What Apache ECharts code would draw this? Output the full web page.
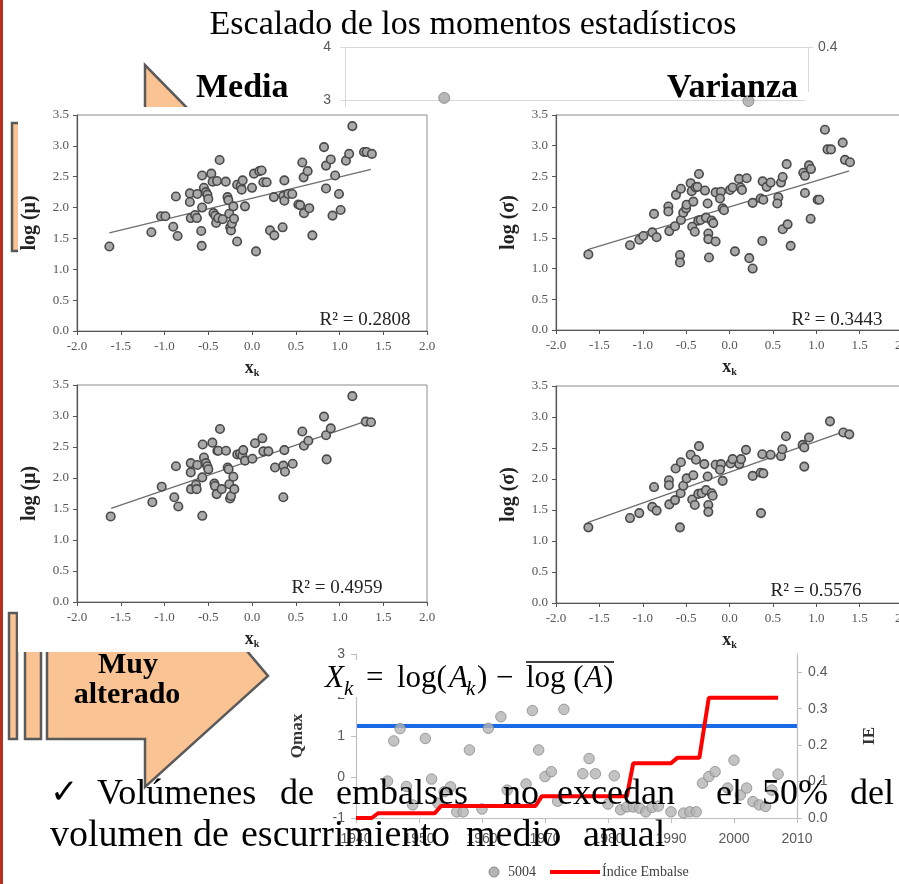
<!DOCTYPE html>
<html>
<head>
<meta charset="utf-8">
<script src="https://cdn.jsdelivr.net/npm/echarts@6.0.0/dist/echarts.min.js"></script>
<style>
html, body { margin: 0; padding: 0; background: #fff; }
#chart { width: 899px; height: 884px; }
</style>
</head>
<body>
<div id="chart"></div>
<script>
// ---- scatter panels: log(mu) / log(sigma) vs xk ----
const tlX = [-1.63,-1.15,-1.04,-0.99,-0.90,-0.87,-0.85,-0.71,-0.71,-0.70,-0.65,-0.63,-0.625,-0.58,-0.575,-0.57,-0.57,-0.55,-0.526,-0.51,-0.50,-0.465,-0.45,-0.44,-0.42,-0.41,-0.40,-0.385,-0.37,-0.335,-0.30,-0.28,-0.27,-0.26,-0.25,-0.24,-0.23,-0.213,-0.206,-0.17,-0.17,-0.13,-0.118,-0.107,-0.08,0.0,0.023,0.046,0.084,0.11,0.13,0.167,0.206,0.25,0.255,0.35,0.358,0.37,0.37,0.415,0.46,0.53,0.55,0.575,0.59,0.594,0.636,0.655,0.69,0.823,0.846,0.846,0.90,0.92,0.95,0.994,1.013,1.074,1.11,1.147,1.28,1.31,1.37];
const tlY = [1.37,1.60,1.86,1.86,1.69,2.18,1.54,2.23,2.09,1.83,1.88,1.83,2.22,1.62,1.38,2.52,2.00,2.32,2.25,2.21,2.14,2.55,2.42,1.91,1.87,1.75,2.43,1.83,2.77,1.81,2.42,2.17,2.12,1.90,1.68,1.63,1.74,2.02,1.82,1.45,2.37,2.35,2.29,2.44,2.02,2.32,2.55,1.29,2.59,2.60,2.41,2.41,1.63,2.17,1.55,1.68,2.19,2.11,2.44,2.22,2.22,2.05,2.04,2.73,2.49,1.91,2.59,1.99,1.55,2.98,2.68,2.31,2.78,1.87,2.52,2.22,1.96,2.76,2.87,3.32,2.90,2.90,2.87];

const trX = [-1.627,-1.147,-1.04,-0.993,-0.89,-0.84,-0.87,-0.705,-0.705,-0.694,-0.628,-0.617,-0.571,-0.571,-0.56,-0.56,-0.533,-0.50,-0.494,-0.448,-0.436,-0.43,-0.40,-0.417,-0.39,-0.37,-0.352,-0.36,-0.333,-0.283,-0.271,-0.252,-0.244,-0.244,-0.236,-0.206,-0.187,-0.16,-0.098,-0.16,-0.11,-0.079,-0.063,0.006,0.036,0.063,0.11,0.128,0.144,0.198,0.228,0.267,0.267,0.359,0.378,0.382,0.39,0.428,0.474,0.563,0.551,0.594,0.613,0.613,0.659,0.67,0.705,0.851,0.87,0.87,0.916,0.939,0.935,1.016,1.035,1.10,1.13,1.17,1.305,1.331,1.389];
const trY = [1.23,1.38,1.47,1.53,1.59,1.51,1.89,2.01,1.93,1.61,1.69,2.20,1.22,1.10,2.30,1.79,1.91,1.98,2.04,2.39,2.26,1.68,1.60,2.09,2.32,2.33,2.54,1.78,1.79,2.27,1.83,2.06,1.57,1.48,1.18,1.78,1.74,2.24,2.25,1.44,2.14,1.98,1.95,2.28,2.32,1.28,2.46,2.32,2.28,2.47,1.17,2.07,1.00,2.14,1.45,2.42,2.12,2.33,2.40,2.16,2.06,2.40,2.49,1.64,2.70,1.72,1.37,2.56,2.51,2.23,2.68,2.62,1.81,2.12,2.12,3.26,2.94,2.94,3.05,2.77,2.73];

const blX = [-1.615,-1.139,-1.032,-0.888,-0.869,-0.842,-0.70,-0.70,-0.697,-0.64,-0.632,-0.625,-0.568,-0.564,-0.568,-0.549,-0.526,-0.51,-0.499,-0.453,-0.43,-0.423,-0.404,-0.396,-0.385,-0.366,-0.347,-0.297,-0.278,-0.267,-0.259,-0.251,-0.24,-0.213,-0.202,-0.168,-0.137,-0.11,-0.10,-0.08,0.004,0.034,0.118,0.13,0.187,0.263,0.358,0.377,0.37,0.358,0.465,0.575,0.594,0.644,0.823,0.846,0.853,0.90,1.147,1.30,1.36];
const blY = [1.38,1.61,1.86,1.69,2.19,1.54,2.24,2.09,1.82,1.89,1.82,2.21,1.39,2.54,2.01,2.33,2.24,2.19,2.14,2.57,1.91,1.87,1.74,2.44,2.44,2.79,1.82,2.44,2.17,2.14,1.90,1.67,1.71,2.02,1.82,2.38,2.39,2.36,2.45,2.28,2.31,2.56,2.64,2.43,2.43,2.17,2.20,2.10,2.45,1.69,2.23,2.75,2.52,2.60,2.99,2.69,2.30,2.80,3.32,2.91,2.90];

const brX = [-1.627,-1.147,-1.04,-0.89,-0.84,-0.87,-0.698,-0.698,-0.694,-0.628,-0.621,-0.571,-0.56,-0.563,-0.533,-0.494,-0.448,-0.417,-0.43,-0.40,-0.386,-0.352,-0.36,-0.321,-0.29,-0.271,-0.252,-0.244,-0.244,-0.206,-0.194,-0.16,-0.098,-0.11,-0.079,0.013,0.036,0.113,0.133,0.19,0.267,0.359,0.39,0.363,0.378,0.474,0.594,0.609,0.651,0.843,0.862,0.862,0.916,1.158,1.312,1.381];
const brY = [1.22,1.37,1.45,1.55,1.49,1.87,1.98,1.90,1.59,1.66,2.17,1.22,2.27,1.77,1.89,2.01,2.39,2.06,1.67,1.58,2.31,2.53,1.76,1.77,2.24,1.82,2.04,1.58,1.47,1.77,1.73,2.23,2.24,2.15,1.97,2.25,2.32,2.24,2.32,2.47,2.05,2.10,2.09,1.45,2.40,2.39,2.37,2.48,2.69,2.55,2.51,2.20,2.67,2.93,2.75,2.72];

// trend line end points
const tlTrendX = [-1.63, 1.36],  tlTrendY = [1.59, 2.62];
const trTrendX = [-1.635, 1.38], trTrendY = [1.31, 2.59];
const blTrendX = [-1.61, 1.27],  blTrendY = [1.51, 2.90];
const brTrendX = [-1.63, 1.31],  brTrendY = [1.30, 2.76];

const r2Labels = ['R² = 0.2808', 'R² = 0.3443', 'R² = 0.4959', 'R² = 0.5576'];

// ---- Qmax / IE chart ----
const qYears = [1945,1946,1947,1948,1949,1951,1952,1953,1954,1955,1956,1957,1958,1960,1961,1963,1964,1967,1968,1969,1970,1971,1972,1973,1976,1977,1978,1980,1981,1982,1983,1984,1985,1986,1987,1988,1990,1992,1993,1994,1995,1996,1997,1999,2000,2001,2002,2003,2004,2005,2006,2007];
const qVals  = [-0.10,0.88,1.18,-0.23,-0.68,0.94,-0.05,-0.64,-0.36,-0.24,-0.85,-0.85,0.66,-0.78,1.19,1.47,-0.32,-0.17,1.62,0.66,0.01,0.13,-0.59,1.65,0.08,0.45,0.08,-0.66,0.03,-0.80,-0.73,-0.73,-0.76,-0.85,-0.74,-0.71,-0.85,-0.88,-0.85,-0.85,-0.15,0.01,0.13,-0.27,0.41,-0.44,-0.27,-0.60,-0.68,-0.72,-0.32,0.07];
const ieYears = [1940, 1942.5, 1943.5, 1952.5, 1953.5, 1968.5, 1969.5, 1983, 1984, 1990, 1991, 1994.5, 1996, 2007];
const ieVals  = [0.0, 0.0, 0.013, 0.013, 0.033, 0.033, 0.06, 0.06, 0.15, 0.15, 0.165, 0.165, 0.33, 0.33];
const blueLevel = 1.24;

// background (mostly hidden) chart
const bgYears = [1955, 2001];
const bgVals  = [3.04, 2.98];

const zip = (xs, ys) => xs.map((x, i) => [x, ys[i]]);

const SERIF = 'Liberation Serif';
const SANS = 'Liberation Sans';
const PEACH = '#FAC393';
const EDGE = '#5a5a5a';

function panelX(gi) {
    return {
        type: 'value', gridIndex: gi, min: -2, max: 2, interval: 0.5, z: 8,
        name: 'x{k|k}', nameLocation: 'middle', nameGap: 27,
        nameTextStyle: {
            fontFamily: SERIF, fontWeight: 'bold', fontSize: 18, color: '#222',
            rich: { k: { fontFamily: SERIF, fontWeight: 'bold', fontSize: 10, color: '#222', verticalAlign: 'bottom', padding: [10, 0, 0, 0] } }
        },
        axisLine: { onZero: false, lineStyle: { color: '#555', width: 1.2 } },
        axisTick: { length: 4, lineStyle: { color: '#555' } },
        axisLabel: { fontFamily: SERIF, fontSize: 13, color: '#555', margin: 9, formatter: v => v.toFixed(1) },
        splitLine: { show: false }
    };
}

function panelY(gi, name) {
    return {
        type: 'value', gridIndex: gi, min: 0, max: 3.5, interval: 0.5, z: 8,
        name: name, nameLocation: 'middle', nameGap: 37,
        nameTextStyle: { fontFamily: SERIF, fontWeight: 'bold', fontSize: 20, color: '#222' },
        axisLine: { show: true, onZero: false, lineStyle: { color: '#555', width: 1.2 } },
        axisTick: { show: true, length: 4, lineStyle: { color: '#555' } },
        axisLabel: { fontFamily: SERIF, fontSize: 13, color: '#555', margin: 8, formatter: v => v.toFixed(1) },
        splitLine: { show: false }
    };
}

function panelSeries(xi, yi, xs, ys, tx, ty) {
    return [{
        type: 'scatter', xAxisIndex: xi, yAxisIndex: yi, z: 9,
        data: zip(xs, ys), symbolSize: 8.5, silent: true,
        itemStyle: { color: '#a9a9a9', borderColor: '#4a4a4a', borderWidth: 1.6, opacity: 1 }
    }, {
        type: 'line', xAxisIndex: xi, yAxisIndex: yi, z: 9,
        data: zip(tx, ty), showSymbol: false, silent: true,
        lineStyle: { color: '#6e6e6e', width: 1.3 }
    }];
}

function txt(x, y, text, style, z) {
    return {
        type: 'text', x: x, y: y, z: z || 20, silent: true,
        style: Object.assign({
            text: text, fill: '#000', fontFamily: SERIF, fontSize: 16,
            align: 'left', verticalAlign: 'middle', textAlign: 'left', textVerticalAlign: 'middle'
        }, style || {})
    };
}

const chart = echarts.init(document.getElementById('chart'), null, { renderer: 'canvas' });

const panelGrid = (left, top, width, height) => ({
    left, top, width, height, show: true, z: 6, outerBoundsMode: 'none', containLabel: false,
    borderColor: '#8c8c8c', borderWidth: 1, backgroundColor: 'transparent'
});

const option = {
    animation: false,
    backgroundColor: '#fff',
    grid: [
        { left: 345, top: 47, width: 463, height: 212, outerBoundsMode: 'none', containLabel: false },
        panelGrid(77, 115, 350, 216),
        panelGrid(556, 115, 347, 215),
        panelGrid(77, 385, 350, 217),
        panelGrid(556, 386, 347, 217),
        { left: 356, top: 654, width: 441, height: 164, outerBoundsMode: 'none', containLabel: false }
    ],
    xAxis: [
        { type: 'value', gridIndex: 0, min: 1940, max: 2010, show: false },
        panelX(1), panelX(2), panelX(3), panelX(4),
        {
            type: 'value', gridIndex: 5, min: 1940, max: 2010, interval: 10, z: 8,
            axisLine: { onZero: false, lineStyle: { color: '#bfbfbf', width: 1.2 } },
            axisTick: { length: 5, lineStyle: { color: '#bfbfbf' } },
            axisLabel: { fontFamily: SANS, fontSize: 14, color: '#595959', margin: 14, formatter: v => String(v) },
            splitLine: { show: false }
        }
    ],
    yAxis: [
        {
            type: 'value', gridIndex: 0, min: 0, max: 4, interval: 1, z: 1,
            axisLine: { show: true, lineStyle: { color: '#d9d9d9' } },
            axisTick: { show: true, length: 5, lineStyle: { color: '#d9d9d9' } },
            axisLabel: { fontFamily: SANS, fontSize: 14, color: '#595959', margin: 14 },
            splitLine: { show: true, lineStyle: { color: '#d9d9d9' } }
        },
        {
            type: 'value', gridIndex: 0, position: 'right', min: 0, max: 0.4, interval: 0.1, z: 1,
            axisLine: { show: true, lineStyle: { color: '#d9d9d9' } },
            axisTick: { show: true, length: 5, lineStyle: { color: '#d9d9d9' } },
            axisLabel: { fontFamily: SANS, fontSize: 14, color: '#595959', margin: 10, formatter: v => v.toFixed(1) },
            splitLine: { show: false }
        },
        panelY(1, 'log (μ)'), panelY(2, 'log (σ)'), panelY(3, 'log (μ)'), panelY(4, 'log (σ)'),
        {
            type: 'value', gridIndex: 5, min: -1, max: 3, interval: 1, z: 8,
            name: 'Qmax', nameLocation: 'middle', nameGap: 50,
            nameTextStyle: { fontFamily: SERIF, fontWeight: 'bold', fontSize: 17, color: '#333' },
            axisLine: { show: true, onZero: false, lineStyle: { color: '#bfbfbf', width: 1.2 } },
            axisTick: { show: true, length: 5, lineStyle: { color: '#bfbfbf' } },
            axisLabel: { fontFamily: SANS, fontSize: 14, color: '#595959', margin: 11 },
            splitLine: { show: false }
        },
        {
            type: 'value', gridIndex: 5, position: 'right', min: 0, max: 0.45, interval: 0.1, z: 8,
            name: 'IE', nameLocation: 'middle', nameGap: 64, nameRotate: 90,
            nameTextStyle: { fontFamily: SERIF, fontWeight: 'bold', fontSize: 17, color: '#333' },
            axisLine: { show: true, onZero: false, lineStyle: { color: '#bfbfbf', width: 1.2 } },
            axisTick: { show: true, length: 5, lineStyle: { color: '#bfbfbf' } },
            axisLabel: { fontFamily: SANS, fontSize: 14, color: '#595959', margin: 11, showMaxLabel: false, formatter: v => v.toFixed(1) },
            splitLine: { show: false }
        }
    ],
    series: [
        {
            type: 'scatter', xAxisIndex: 0, yAxisIndex: 0, z: 2, silent: true,
            data: zip(bgYears, bgVals), symbolSize: 11,
            itemStyle: { color: '#a6a6a6', borderColor: '#7f7f7f', borderWidth: 1 }
        },
        ...panelSeries(1, 2, tlX, tlY, tlTrendX, tlTrendY),
        ...panelSeries(2, 3, trX, trY, trTrendX, trTrendY),
        ...panelSeries(3, 4, blX, blY, blTrendX, blTrendY),
        ...panelSeries(4, 5, brX, brY, brTrendX, brTrendY),
        {
            name: '5004', type: 'scatter', xAxisIndex: 5, yAxisIndex: 6, z: 9, silent: true,
            data: zip(qYears, qVals), symbolSize: 10.5,
            itemStyle: { color: '#b4b4b4', borderColor: '#8a8a8a', borderWidth: 1 },
            markLine: {
                silent: true, symbol: ['none', 'none'], label: { show: false },
                lineStyle: { color: '#1a6ae8', width: 4, type: 'solid' },
                data: [{ yAxis: blueLevel }]
            }
        },
        {
            name: 'Índice Embalse', type: 'line', xAxisIndex: 5, yAxisIndex: 7, z: 10, silent: true,
            data: zip(ieYears, ieVals), showSymbol: false,
            lineStyle: { color: '#ff0000', width: 4 }
        }
    ],
    graphic: [
        // white backing of the pasted panels
        { type: 'rect', z: 5, silent: true, shape: { x: 18, y: 107, width: 881, height: 545 }, style: { fill: '#fff' } },
        { type: 'rect', z: 5, silent: true, shape: { x: 805, y: 92, width: 94, height: 20 }, style: { fill: '#fff' } },
        // orange shapes
        { type: 'polygon', z: 3, silent: true, shape: { points: [[145, 65], [145, 170], [248, 170]] }, style: { fill: PEACH, stroke: EDGE, lineWidth: 2.5 } },
        { type: 'rect', z: 3, silent: true, shape: { x: 12, y: 123, width: 12, height: 128 }, style: { fill: PEACH, stroke: EDGE, lineWidth: 2.5 } },
        { type: 'rect', z: 3, silent: true, shape: { x: 9, y: 613, width: 8, height: 126 }, style: { fill: PEACH, stroke: EDGE, lineWidth: 2.5 } },
        { type: 'rect', z: 3, silent: true, shape: { x: 25, y: 600, width: 16, height: 139 }, style: { fill: PEACH, stroke: EDGE, lineWidth: 2.5 } },
        { type: 'polygon', z: 3, silent: true, shape: { points: [[47, 560], [170, 560], [268, 676], [145, 787], [145, 739], [47, 739]] }, style: { fill: PEACH, stroke: EDGE, lineWidth: 2.5 } },
        txt(128, 665, 'Muy', { fontSize: 30, fontWeight: 'bold', align: 'center', textAlign: 'center' }, 4),
        txt(127, 695, 'alterado', { fontSize: 30, fontWeight: 'bold', align: 'center', textAlign: 'center' }, 4),
        // titles
        txt(473, 25, 'Escalado de los momentos estadísticos', { fontSize: 34, align: 'center', textAlign: 'center' }, 10),
        txt(196, 88, 'Media', { fontSize: 34, fontWeight: 'bold' }, 10),
        txt(667, 88, 'Varianza', { fontSize: 34, fontWeight: 'bold' }, 10),
        // R² annotations
        txt(365, 320, r2Labels[0], { fontSize: 19, fill: '#222', align: 'center', textAlign: 'center' }, 10),
        txt(837, 320, r2Labels[1], { fontSize: 19, fill: '#222', align: 'center', textAlign: 'center' }, 10),
        txt(337, 588, r2Labels[2], { fontSize: 19, fill: '#222', align: 'center', textAlign: 'center' }, 10),
        txt(816, 591, r2Labels[3], { fontSize: 19, fill: '#222', align: 'center', textAlign: 'center' }, 10),
        // formula box
        { type: 'rect', z: 12, silent: true, shape: { x: 320, y: 660, width: 298, height: 37 }, style: { fill: '#fff' } },
        txt(325, 679, 'X', { fontSize: 31, fontStyle: 'italic' }, 13),
        txt(344, 689, 'k', { fontSize: 21, fontStyle: 'italic' }, 13),
        txt(366, 679, '=', { fontSize: 31 }, 13),
        txt(397, 679, 'log(', { fontSize: 31 }, 13),
        txt(449, 679, 'A', { fontSize: 31, fontStyle: 'italic' }, 13),
        txt(466, 689, 'k', { fontSize: 21, fontStyle: 'italic' }, 13),
        txt(477, 679, ')', { fontSize: 31 }, 13),
        txt(496, 679, '−', { fontSize: 31 }, 13),
        txt(526, 679, 'log (', { fontSize: 31 }, 13),
        txt(584, 679, 'A', { fontSize: 31, fontStyle: 'italic' }, 13),
        txt(603, 679, ')', { fontSize: 31 }, 13),
        { type: 'line', z: 13, silent: true, shape: { x1: 526, y1: 662, x2: 614, y2: 662 }, style: { stroke: '#000', lineWidth: 1.5 } },
        // bullet text
        txt(50, 794, '✓', { fontSize: 34, fontFamily: 'DejaVu Sans' }, 20),
        txt(97, 795, 'Volúmenes', { fontSize: 36 }, 20),
        txt(280, 795, 'de', { fontSize: 36 }, 20),
        txt(336, 795, 'embalses', { fontSize: 36 }, 20),
        txt(503, 795, 'no', { fontSize: 36 }, 20),
        txt(557, 795, 'excedan', { fontSize: 36 }, 20),
        txt(716, 795, 'el', { fontSize: 36 }, 20),
        txt(762, 795, '50%', { fontSize: 36 }, 20),
        txt(850, 795, 'del', { fontSize: 36 }, 20),
        txt(50, 836, 'volumen', { fontSize: 38 }, 20),
        txt(193, 836, 'de', { fontSize: 38 }, 20),
        txt(241, 836, 'escurrimiento', { fontSize: 38 }, 20),
        txt(466, 836, 'medio', { fontSize: 38 }, 20),
        txt(583, 836, 'anual', { fontSize: 38 }, 20),
        // legend of the Qmax chart
        { type: 'circle', z: 20, silent: true, shape: { cx: 494, cy: 872, r: 5 }, style: { fill: '#b4b4b4', stroke: '#8a8a8a', lineWidth: 1 } },
        txt(508, 872, '5004', { fontSize: 14, fill: '#404040' }, 20),
        { type: 'line', z: 20, silent: true, shape: { x1: 550, y1: 872, x2: 600, y2: 872 }, style: { stroke: '#ff0000', lineWidth: 4 } },
        txt(602, 872, 'Índice Embalse', { fontSize: 14, fill: '#404040' }, 20),
        // slide border stripe
        { type: 'rect', z: 30, silent: true, shape: { x: 0, y: 0, width: 3, height: 884 }, style: { fill: '#b5301f' } }
    ]
};

chart.setOption(option);
</script>
</body>
</html>
